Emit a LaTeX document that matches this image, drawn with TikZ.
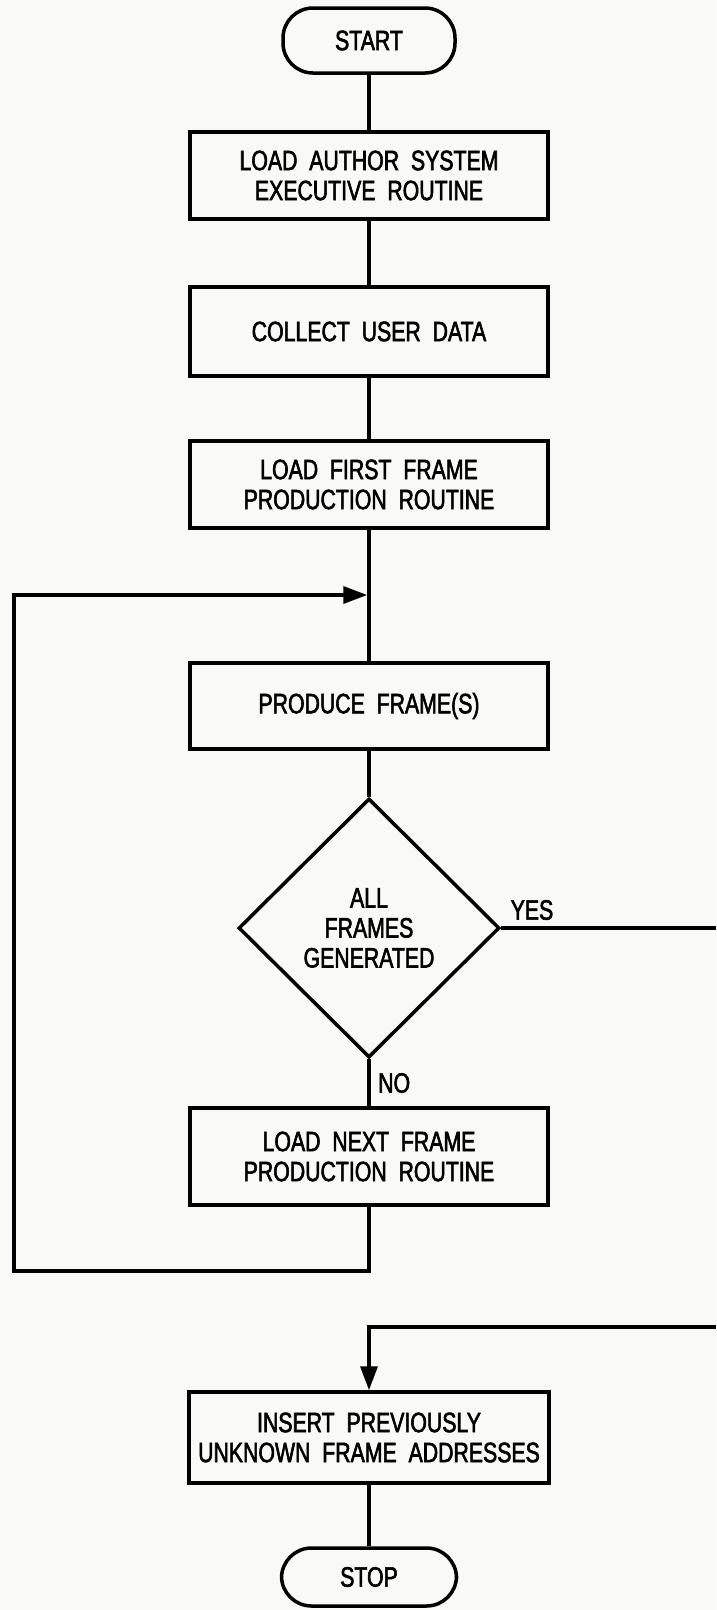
\documentclass[tikz,border=0pt]{standalone}
\usepackage{fontspec}
\setmainfont[FakeStretch=0.76, FakeBold=2, WordSpace=2]{Liberation Sans}
\usetikzlibrary{shapes.geometric,arrows.meta}
\definecolor{paper}{RGB}{249,249,247}
\begin{document}
\begin{tikzpicture}[x=1pt,y=-1pt,
  ln/.style={line width=3.5pt, line cap=butt, line join=miter},
  txt/.style={font=\fontsize{28}{30}\selectfont},
  procbox/.style={draw, ln, txt, rectangle, minimum width=358pt, align=center, inner sep=0pt},
  term/.style={draw, ln, txt, rectangle, rounded corners=30pt, minimum width=172pt, inner sep=0pt},
  decis/.style={draw, ln, txt, diamond, aspect=1, minimum width=261pt, minimum height=259pt, inner sep=0pt, align=center},
  lbl/.style={txt, inner sep=0pt},
  arr/.style={-{Triangle[length=24pt,width=17pt]}}
]
\fill[paper] (0,0) rectangle (716,1610);
\useasboundingbox (0,0) rectangle (716,1610);

\node[term, minimum height=65pt] (start) at (369,40.5) {START};
\node[procbox, minimum height=87pt] (b1) at (369,175.5) {LOAD AUTHOR SYSTEM\\EXECUTIVE ROUTINE};
\node[procbox, minimum height=89pt] (b2) at (369,331.5) {COLLECT USER DATA};
\node[procbox, minimum height=87pt] (b3) at (369,484.5) {LOAD FIRST FRAME\\PRODUCTION ROUTINE};
\coordinate (merge) at (369,595);
\node[procbox, minimum height=86pt] (b4) at (369,706) {PRODUCE FRAME(S)};
\node[decis] (dia) at (369,928) {ALL\\FRAMES\\GENERATED};
\node[procbox, minimum height=97pt] (b5) at (369,1156.5) {LOAD NEXT FRAME\\PRODUCTION ROUTINE};
\node[procbox, minimum height=91pt, minimum width=360pt] (b6) at (369,1437.5) {INSERT PREVIOUSLY\\UNKNOWN FRAME ADDRESSES};
\node[term, minimum height=58pt, minimum width=175pt] (stop) at (369,1577) {STOP};

\node[lbl] (yes) at (532,910) {YES};
\node[lbl, anchor=west] (no) at (378,1083) {NO};

\coordinate (lowleft) at (14,1271);
\coordinate (yesout) at (716,928);
\coordinate (yesin) at (716,1327);

\draw[ln] (start) -- (b1);
\draw[ln] (b1) -- (b2);
\draw[ln] (b2) -- (b3);
\draw[ln] (b3) -- (b4);
\draw[ln] (b4) -- (dia);
\draw[ln] (dia.east) -- (yesout);
\draw[ln] (dia.south) -- (b5.north);
\draw[ln, arr] (b5.south) |- (lowleft) |- ([xshift=-1.75pt]merge);
\draw[ln, arr] (yesin) -| (b6.north);
\draw[ln] (b6) -- (stop);
\end{tikzpicture}
\end{document}
